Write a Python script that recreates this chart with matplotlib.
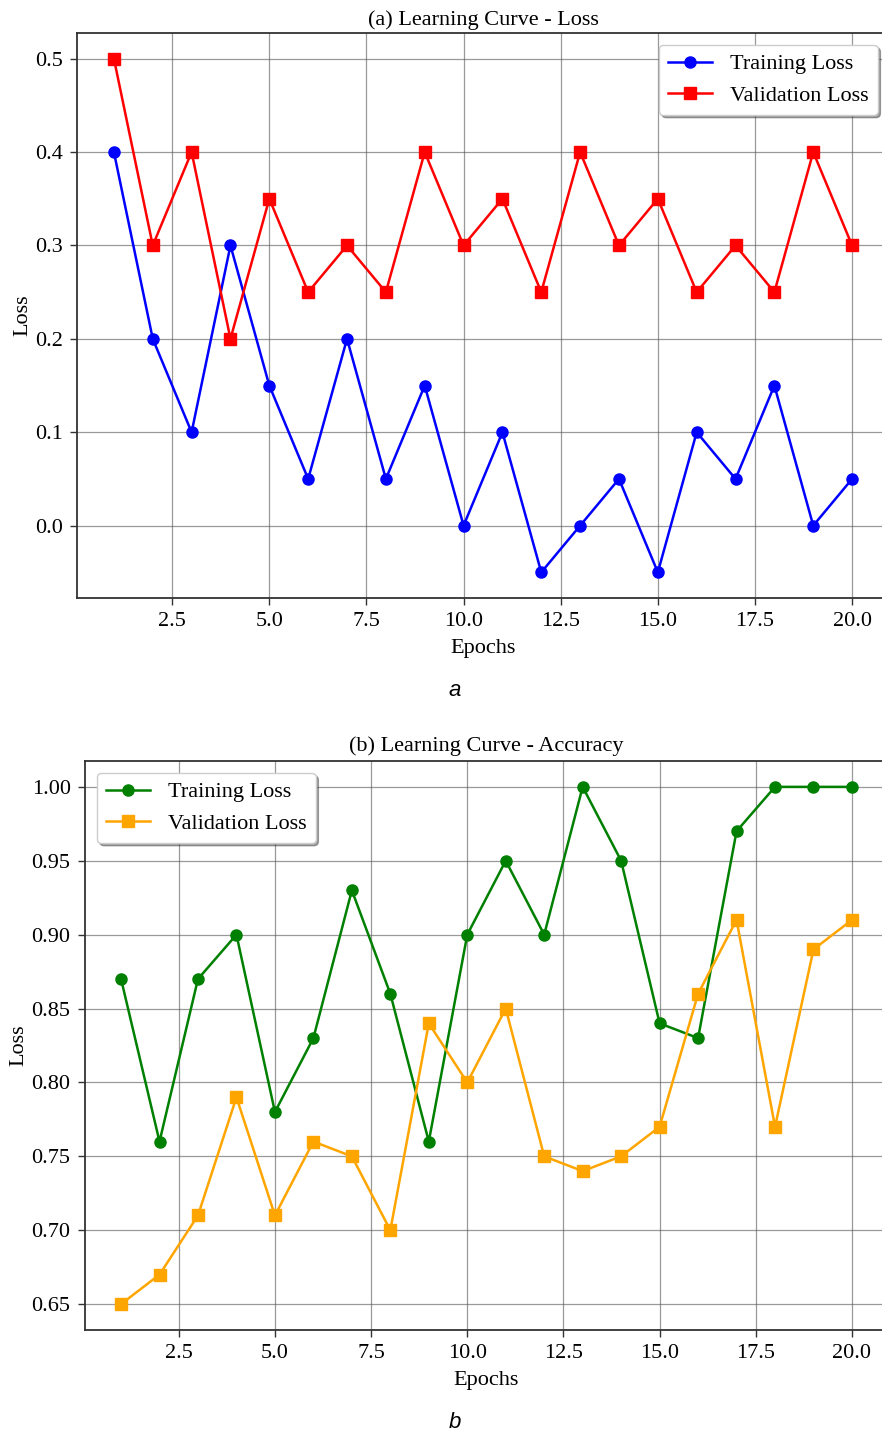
import numpy as np
import matplotlib.pyplot as plt

plt.rcParams['font.family'] = ['Liberation Serif', 'DejaVu Serif']

epochs = np.arange(1, 21)

# (a) loss
train_loss = [0.40, 0.20, 0.10, 0.30, 0.15, 0.05, 0.20, 0.05, 0.15, 0.00,
              0.10, -0.05, 0.00, 0.05, -0.05, 0.10, 0.05, 0.15, 0.00, 0.05]
val_loss = [0.50, 0.30, 0.40, 0.20, 0.35, 0.25, 0.30, 0.25, 0.40, 0.30,
            0.35, 0.25, 0.40, 0.30, 0.35, 0.25, 0.30, 0.25, 0.40, 0.30]

# (b) accuracy
train_acc = [0.87, 0.76, 0.87, 0.90, 0.78, 0.83, 0.93, 0.86, 0.76, 0.90,
             0.95, 0.90, 1.00, 0.95, 0.84, 0.83, 0.97, 1.00, 1.00, 1.00]
val_acc = [0.65, 0.67, 0.71, 0.79, 0.71, 0.76, 0.75, 0.70, 0.84, 0.80,
           0.85, 0.75, 0.74, 0.75, 0.77, 0.86, 0.91, 0.77, 0.89, 0.91]

W, H = 882, 1436
FS = 16
fig = plt.figure(figsize=(W / 100, H / 100), dpi=100)

def px_axes(left, top, right, bottom):
    return fig.add_axes([left / W, 1 - bottom / H, (right - left) / W, (bottom - top) / H])

def style(ax):
    ax.grid(True, color='#555555', linewidth=0.9, alpha=0.6)
    for s in ax.spines.values():
        s.set_color('#333333')
        s.set_linewidth(1.3)
    ax.tick_params(labelsize=FS, color='#333333', width=1.0, length=5, pad=5)
    ax.set_xlabel('Epochs', fontsize=FS, labelpad=6)
    ax.set_ylabel('Loss', fontsize=FS, labelpad=2)

leg_kw = dict(fontsize=FS, shadow=True, fancybox=True, framealpha=1,
              borderpad=0.4, handlelength=2.0, labelspacing=0.5, borderaxespad=0)

ax1 = px_axes(77, 33, 889, 598)
ax1.plot(epochs, train_loss, 'o-', color='blue', lw=1.8, ms=8, label='Training Loss')
ax1.plot(epochs, val_loss, 's-', color='red', lw=1.8, ms=8, label='Validation Loss')
ax1.set_title('(a) Learning Curve - Loss', fontsize=FS, pad=6)
style(ax1)
ax1.legend(loc='upper right', bbox_to_anchor=(0.986, 0.979), **leg_kw)

ax2 = px_axes(84.5, 761, 888.5, 1330)
ax2.plot(epochs, train_acc, 'o-', color='green', lw=1.8, ms=8, label='Training Loss')
ax2.plot(epochs, val_acc, 's-', color='orange', lw=1.8, ms=8, label='Validation Loss')
ax2.set_title('(b) Learning Curve - Accuracy', fontsize=FS, pad=7)
ax2.set_yticks([0.65, 0.70, 0.75, 0.80, 0.85, 0.90, 0.95, 1.00])
style(ax2)
ax2.legend(loc='upper left', bbox_to_anchor=(0.0155, 0.979), **leg_kw)

fig.text(455 / W, 1 - 690 / H, 'a', fontsize=16, style='italic',
         family='Liberation Sans', ha='center', va='center')
fig.text(455 / W, 1 - 1423 / H, 'b', fontsize=16, style='italic',
         family='Liberation Sans', ha='center', va='center')

fig.savefig('out.png', dpi=100)
